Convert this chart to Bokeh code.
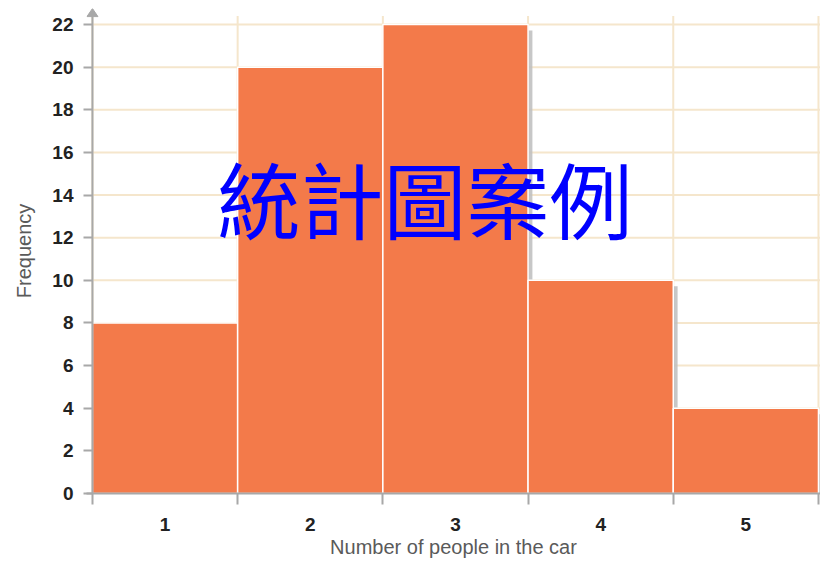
from bokeh.plotting import figure
from bokeh.models import FixedTicker, Label, Range1d
from bokeh.embed import file_html
from bokeh.resources import INLINE

# ---- data ----
people = [1, 2, 3, 4, 5]
frequency = [8, 20, 22, 10, 4]
y_ticks = list(range(0, 23, 2))
title_text = "統計圖案例"
x_label = "Number of people in the car"
y_label = "Frequency"

BAR = "#F37A4A"
GRID = "#F5E6CC"
AXIS = "#A8A8A8"
SHADOW = "#BDBDBD"

lefts = [c - 0.5 for c in people]
rights = [c + 0.5 for c in people]
edges = lefts + [rights[-1]]
x0 = edges[0]
y_top = 22.75
x_start = 0.459
x_end = 5.514

p = figure(width=820, height=560, output_backend="svg", toolbar_location=None,
           x_range=Range1d(x_start, x_end), y_range=Range1d(0, y_top),
           min_border_left=86, min_border_right=0, min_border_top=8,
           min_border_bottom=60)
p.outline_line_color = None
p.background_fill_color = "white"
p.border_fill_color = "white"
p.xgrid.visible = False
p.ygrid.visible = False

# horizontal grid lines
gy = y_ticks[1:]
p.segment(x0=[x0] * len(gy), y0=gy, x1=[x_end] * len(gy), y1=gy,
          line_color=GRID, line_width=2)
# vertical grid lines at bin edges
p.segment(x0=edges, y0=[0] * len(edges), x1=edges, y1=[22.4] * len(edges),
          line_color=GRID, line_width=2)

# shadows
p.quad(left=[l + 0.03 for l in lefts], right=[r + 0.03 for r in rights],
       bottom=0, top=[f - 0.28 for f in frequency],
       fill_color=SHADOW, fill_alpha=0.85, line_color=None)

# bars
p.quad(left=lefts, right=rights, bottom=0, top=frequency,
       fill_color=BAR, line_color="white", line_width=1.5)

# y-axis line and arrow head
p.segment(x0=[x0], y0=[0], x1=[x0], y1=[22.45], line_color=AXIS, line_width=2)
p.patch(x=[x0 - 0.038, x0 + 0.038, x0], y=[22.37, 22.37, y_top],
        fill_color=AXIS, line_color=AXIS, line_width=1)

# y axis (ticks + labels)
ya = p.yaxis[0]
ya.ticker = FixedTicker(ticks=y_ticks)
ya.major_tick_out = 3
ya.major_tick_in = 6
ya.minor_tick_out = 0
ya.minor_tick_in = 0
ya.axis_line_color = None
ya.major_tick_line_color = AXIS
ya.major_tick_line_width = 2
ya.major_label_text_font = "Liberation Sans"
ya.major_label_text_font_style = "bold"
ya.major_label_text_font_size = "19px"
ya.major_label_text_color = "#222222"
ya.major_label_standoff = 10
ya.axis_label = y_label
ya.axis_label_text_font = "Liberation Sans"
ya.axis_label_text_font_style = "normal"
ya.axis_label_text_font_size = "20px"
ya.axis_label_text_color = "#5a5a5a"
ya.axis_label_standoff = 14

# x axis
xa = p.xaxis[0]
xa.ticker = FixedTicker(ticks=people, minor_ticks=edges)
xa.major_tick_out = 0
xa.major_tick_in = 0
xa.minor_tick_out = 11
xa.minor_tick_in = 0
xa.minor_tick_line_color = AXIS
xa.minor_tick_line_width = 2
xa.axis_line_color = AXIS
xa.axis_line_width = 2
xa.major_label_text_font = "Liberation Sans"
xa.major_label_text_font_style = "bold"
xa.major_label_text_font_size = "19px"
xa.major_label_text_color = "#222222"
xa.major_label_standoff = 13
xa.axis_label = x_label
xa.axis_label_text_font = "Liberation Sans"
xa.axis_label_text_font_style = "normal"
xa.axis_label_text_font_size = "20px"
xa.axis_label_text_color = "#5a5a5a"
xa.axis_label_standoff = 2

# overlay title
p.add_layout(Label(x=2.79, y=13.9, text=title_text, text_align="center",
                   text_baseline="middle", text_color="#0000FF",
                   text_font="Noto Sans CJK TC", text_font_size="83px"))

open("out.html", "w").write(file_html(p, INLINE))
